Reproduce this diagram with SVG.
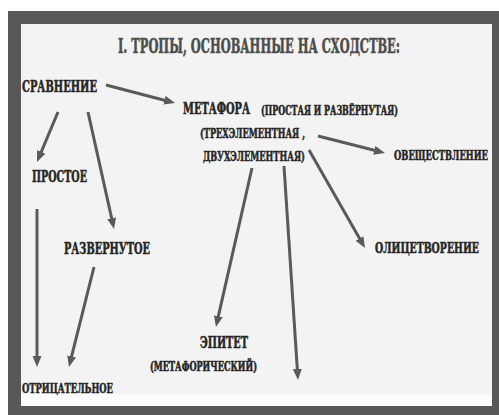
<svg xmlns="http://www.w3.org/2000/svg" width="499" height="415" viewBox="0 0 499 415">
<defs>
<style>
.t{font-family:"DejaVu Serif Condensed","DejaVu Serif","Liberation Serif",serif;font-weight:bold;fill:#262626;stroke:#262626;stroke-width:0.5}
.ttl{fill:#4d4d4d;stroke:#4d4d4d}
.c{stroke:#5a5a5a;stroke-width:3;fill:none;marker-end:url(#ah)}
</style>
<marker id="ah" markerUnits="userSpaceOnUse" markerWidth="12" markerHeight="10" refX="3" refY="4.5" orient="auto">
<path d="M0,0 L11,4.5 L0,9 z" fill="#5a5a5a"/>
</marker>
</defs>
<rect x="0" y="0" width="499" height="415" fill="#ffffff"/>
<rect x="8" y="11" width="491" height="404" fill="#585858"/>
<rect x="21" y="24" width="471" height="382" fill="#f3f3f3"/>
<rect x="21" y="394" width="471" height="12" fill="#fbfbfb"/>
<g id="title"><text class="t ttl" x="118" y="53" font-size="21" textLength="282" lengthAdjust="spacingAndGlyphs">I. ТРОПЫ,  ОСНОВАННЫЕ НА СХОДСТВЕ:</text></g>
<g id="connectors">
<line class="c" x1="106" y1="85" x2="167.3" y2="101"/>
<line class="c" x1="58" y1="112" x2="40.1" y2="154.6"/>
<line class="c" x1="88" y1="112" x2="112.3" y2="221.2"/>
<line class="c" x1="37" y1="209" x2="37" y2="359"/>
<line class="c" x1="94" y1="267" x2="70.9" y2="359.2"/>
<line class="c" x1="252" y1="168" x2="217.7" y2="319.2"/>
<line class="c" x1="284" y1="166" x2="297.5" y2="372"/>
<line class="c" x1="309" y1="150" x2="361" y2="241.1"/>
<line class="c" x1="318" y1="136" x2="377.2" y2="151"/>
</g>
<g id="sravnenie"><text class="t" x="22" y="92" font-size="16" textLength="75" lengthAdjust="spacingAndGlyphs">СРАВНЕНИЕ</text></g>
<g id="metafora">
<text class="t" x="183" y="114" font-size="16" textLength="67" lengthAdjust="spacingAndGlyphs">МЕТАФОРА</text>
<text class="t" x="261" y="115" font-size="12" textLength="137" lengthAdjust="spacingAndGlyphs">(ПРОСТАЯ И РАЗВЁРНУТАЯ)</text>
<text class="t" x="200" y="138" font-size="13" textLength="105" lengthAdjust="spacingAndGlyphs">(ТРЕХЭЛЕМЕНТНАЯ ,</text>
<text class="t" x="203" y="161" font-size="13" textLength="102" lengthAdjust="spacingAndGlyphs">ДВУХЭЛЕМЕНТНАЯ)</text>
</g>
<g id="oveshchestvlenie"><text class="t" x="394" y="160" font-size="13" textLength="94" lengthAdjust="spacingAndGlyphs">ОВЕЩЕСТВЛЕНИЕ</text></g>
<g id="olicetvorenie"><text class="t" x="375" y="253" font-size="15" textLength="104" lengthAdjust="spacingAndGlyphs">ОЛИЦЕТВОРЕНИЕ</text></g>
<g id="prostoe"><text class="t" x="32" y="182" font-size="16" textLength="55" lengthAdjust="spacingAndGlyphs">ПРОСТОЕ</text></g>
<g id="razvernutoe"><text class="t" x="64" y="254" font-size="16" textLength="86" lengthAdjust="spacingAndGlyphs">РАЗВЕРНУТОЕ</text></g>
<g id="epitet">
<text class="t" x="200" y="348" font-size="16" textLength="48" lengthAdjust="spacingAndGlyphs">ЭПИТЕТ</text>
<text class="t" x="150" y="371" font-size="12" textLength="107" lengthAdjust="spacingAndGlyphs">(МЕТАФОРИЧЕСКИЙ)</text>
</g>
<g id="otricatelnoe"><text class="t" x="22" y="393" font-size="13" textLength="91" lengthAdjust="spacingAndGlyphs">ОТРИЦАТЕЛЬНОЕ</text></g>
</svg>
